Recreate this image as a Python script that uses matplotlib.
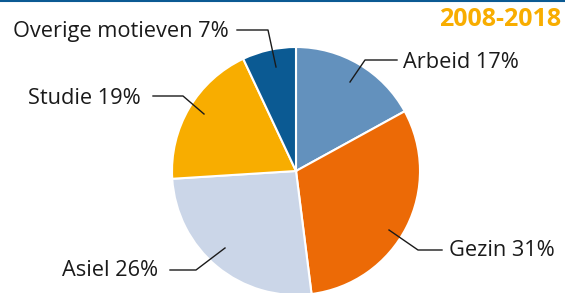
import matplotlib.pyplot as plt

labels = ["Arbeid", "Gezin", "Asiel", "Studie", "Overige motieven"]
shares = [17, 31, 26, 19, 7]
colors = ["#6391bd", "#ec6a06", "#cbd6e8", "#f8ad00", "#0b5a93"]
period = "2008-2018"

plt.rcParams['font.family'] = ['Open Sans', 'DejaVu Sans']

W, H = 565, 293
fig = plt.figure(figsize=(W / 100, H / 100), dpi=100)
ax = fig.add_axes([0, 0, 1, 1])

cx, cy, r = 296, H - 171, 124
ax.pie(shares, colors=colors, startangle=90, counterclock=False,
       center=(cx, cy), radius=r, frame=True,
       wedgeprops=dict(edgecolor='white', linewidth=1.5))
ax.set_xlim(0, W)
ax.set_ylim(0, H)
ax.set_aspect('equal')
ax.axis('off')

# leader lines: (inside point, elbow, end), text anchor
leaders = [
    ([(350, 82), (365, 60), (397, 60)], (403, 62), 'left'),
    ([(389, 230), (418, 250), (442, 250)], (449, 251), 'left'),
    ([(225, 248), (196, 270), (170, 270)], (158, 271), 'right'),
    ([(204, 114), (183, 96), (153, 96)], (141, 99), 'right'),
    ([(276, 67), (268, 30), (237, 30)], (229, 31), 'right'),
]
for (pts, (tx, ty), ha), lab, s in zip(leaders, labels, shares):
    xs = [p[0] for p in pts]
    ys = [H - p[1] for p in pts]
    ax.plot(xs, ys, color='#1a1a1a', lw=1)
    ax.text(tx, H - ty, f"{lab} {s}%", ha=ha, va='center',
            fontsize=15.7, color='#1a1a1a')

ax.text(561, H - 20, period, ha='right', va='center', fontsize=18,
        fontweight='bold', color='#f8ad00')
ax.axhline(H - 0.5, color='#0b5a93', lw=1.5)

fig.savefig('out.png', dpi=100)
